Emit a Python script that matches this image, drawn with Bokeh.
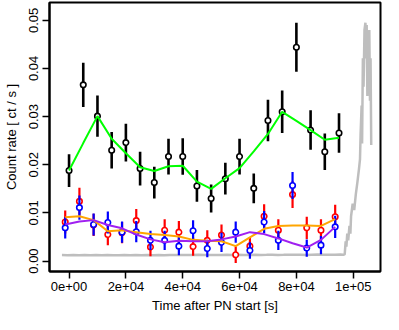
import numpy as np
from bokeh.plotting import figure
from bokeh.models import Range1d, FixedTicker, ColumnDataSource, Title
from bokeh.embed import file_html
from bokeh.resources import INLINE

# ---------------- data ----------------
# total (black) light curve, 5 ks bins
tot_time = [0, 5000, 10000, 15000, 20000, 25000, 30000, 35000, 40000, 45000,
            50000, 55000, 60000, 65000, 70000, 75000, 80000, 85000, 90000, 95000]
tot_rate = [0.0188, 0.0366, 0.0301, 0.0230, 0.0246, 0.0192, 0.0163, 0.0217, 0.0217, 0.0156,
            0.0130, 0.0171, 0.0217, 0.0151, 0.0292, 0.0310, 0.0444, 0.0272, 0.0227, 0.0266]
tot_err = [0.0034, 0.0046, 0.0043, 0.0038, 0.0039, 0.0035, 0.0033, 0.0037, 0.0038, 0.0033,
           0.0029, 0.0033, 0.0037, 0.0031, 0.0043, 0.0044, 0.0051, 0.0041, 0.0038, 0.0041]
tot_smooth = [0.0188, 0.0245, 0.0301, 0.0254, 0.0224, 0.0195, 0.0187, 0.0197, 0.0198, 0.0165,
              0.0150, 0.0172, 0.0193, 0.0228, 0.0264, 0.0310, 0.0291, 0.0272, 0.0252, 0.0256]

# soft (red) and hard (blue) bands
band_time = [-1350, 3650, 8650, 13650, 18650, 23650, 28650, 33650, 38650, 43650,
             48650, 53650, 58650, 63650, 68650, 73650, 78650, 83650, 88650, 93650]
red_rate = [0.0081, 0.0124, 0.0075, 0.0055, 0.0059, 0.0084, 0.0029, 0.0064, 0.0060, 0.0030,
            0.0043, 0.0054, 0.0013, 0.0031, 0.0093, 0.0064, 0.0138, 0.0069, 0.0064, 0.0092]
red_err = [0.0024, 0.0028, 0.0023, 0.0022, 0.0022, 0.0024, 0.0019, 0.0023, 0.0023, 0.0019,
           0.0021, 0.0022, 0.0017, 0.0019, 0.0025, 0.0023, 0.0028, 0.0023, 0.0023, 0.0025]
red_smooth = [0.0091, 0.0093, 0.0085, 0.0062, 0.0064, 0.0060, 0.0056, 0.0054, 0.0051, 0.0044,
              0.0042, 0.0041, 0.0031, 0.0049, 0.0067, 0.0073, 0.0074, 0.0074, 0.0073, 0.0087]
blue_rate = [0.0069, 0.0111, 0.0076, 0.0080, 0.0060, 0.0061, 0.0043, 0.0043, 0.0031, 0.0063,
             0.0026, 0.0039, 0.0060, 0.0022, 0.0081, 0.0043, 0.0157, 0.0027, 0.0033, 0.0071]
blue_err = [0.0022, 0.0025, 0.0023, 0.0023, 0.0022, 0.0022, 0.0020, 0.0020, 0.0019, 0.0022,
            0.0018, 0.0020, 0.0022, 0.0017, 0.0023, 0.0020, 0.0028, 0.0018, 0.0019, 0.0023]
blue_smooth = [0.0076, 0.0082, 0.0085, 0.0075, 0.0068, 0.0055, 0.0045, 0.0039, 0.0042, 0.0041,
               0.0041, 0.0045, 0.0051, 0.0060, 0.0056, 0.0047, 0.0037, 0.0028, 0.0044, 0.0071]

# background (grey) light curve
bkg_flat_time = list(np.arange(-2500, 96500, 2000))
bkg_flat_rate = [0.00124, 0.00122, 0.00126, 0.00121, 0.00125, 0.00123, 0.00127, 0.00122, 0.00124, 0.00120,
                 0.00123, 0.00125, 0.00121, 0.00124, 0.00122, 0.00126, 0.00123, 0.00125, 0.00121, 0.00127,
                 0.00124, 0.00126, 0.00128, 0.00125, 0.00129, 0.00127, 0.00124, 0.00128, 0.00126, 0.00130,
                 0.00127, 0.00129, 0.00125, 0.00128, 0.00131, 0.00127, 0.00129, 0.00132, 0.00128, 0.00130,
                 0.00133, 0.00129, 0.00131, 0.00128, 0.00132, 0.00134, 0.00130, 0.00133, 0.00131, 0.00134]
bkg_flare_time = [96460, 97000, 97340, 97600, 97900, 98240, 98680, 99000, 99240, 99810,
                  100350, 100920, 101500, 102040, 102380, 102600, 102950, 103120, 103400, 103630,
                  103970, 104300, 104540, 104740, 104980, 105220, 105420, 105660, 105900, 106100, 106340]
bkg_flare_rate = [0.0013, 0.0014, 0.0041, 0.0030, 0.0057, 0.0043, 0.0073, 0.0057, 0.0093, 0.0119,
                  0.0106, 0.0139, 0.0165, 0.0192, 0.0211, 0.0264, 0.0323, 0.0244, 0.0421, 0.0362,
                  0.0480, 0.0495, 0.0421, 0.0490, 0.0343, 0.0461, 0.0402, 0.0480, 0.0333, 0.0421, 0.0241]

x_ticks = [0, 20000, 40000, 60000, 80000, 100000]
x_tick_labels = ["0e+00", "2e+04", "4e+04", "6e+04", "8e+04", "1e+05"]
y_ticks = [0.0, 0.01, 0.02, 0.03, 0.04, 0.05]
y_tick_labels = ["0.00", "0.01", "0.02", "0.03", "0.04", "0.05"]
x_title = "Time after PN start [s]"
y_title = "Count rate [ ct / s ]"

FONT = "Liberation Sans"
X_MIN, X_MAX = -6880, 109600

# ---------------- figure ----------------
p = figure(width=383, height=314,
           x_range=Range1d(X_MIN, X_MAX), y_range=Range1d(-0.00217, 0.0537),
           output_backend="svg", toolbar_location=None,
           min_border_left=44, min_border_right=3, min_border_top=2, min_border_bottom=0)
p.grid.visible = False
p.outline_line_color = "black"
p.outline_line_width = 2
p.background_fill_color = "white"
p.border_fill_color = "white"

for ax in (p.xaxis[0], p.yaxis[0]):
    ax.axis_line_color = "black"
    ax.axis_line_width = 2
    ax.major_tick_in = 0
    ax.major_tick_out = 7
    ax.major_tick_line_width = 1.5
    ax.minor_tick_in = 0
    ax.minor_tick_out = 0
    ax.major_label_text_font = FONT
    ax.major_label_text_font_size = "13px"
    ax.major_label_text_color = "black"
    ax.axis_label_text_font = FONT
    ax.axis_label_text_font_size = "13px"
    ax.axis_label_text_font_style = "normal"
    ax.axis_label_text_color = "black"

p.xaxis.ticker = FixedTicker(ticks=x_ticks)
p.xaxis.major_label_overrides = dict(zip(x_ticks, x_tick_labels))
p.xaxis.major_label_standoff = 3

p.yaxis.ticker = FixedTicker(ticks=y_ticks)
p.yaxis.major_label_overrides = dict(zip(y_ticks, y_tick_labels))
p.yaxis.major_label_orientation = "vertical"
p.yaxis.axis_label = y_title
p.yaxis.major_label_standoff = 4
p.yaxis.axis_label_standoff = 8

# x-axis title as a title below the axis
p.add_layout(Title(text=x_title, align="center", text_font=FONT, text_font_size="13px",
                   text_font_style="normal", text_color="black", standoff=4, offset=0),
             "below")

# background curve
bkg_t = bkg_flat_time + bkg_flare_time
bkg_r = bkg_flat_rate + bkg_flare_rate
p.line(bkg_t, bkg_r, line_color="#BEBEBE", line_width=2.5)


def errpoints(x, y, e, color, bw):
    y = np.array(y)
    e = np.array(e)
    src = ColumnDataSource(dict(x=x, y=y, lo=y - e, hi=y + e))
    p.segment(x0="x", y0="lo", x1="x", y1="hi", source=src, line_color=color, line_width=bw)
    p.scatter(x="x", y="y", source=src, marker="circle", size=5.5,
              line_color=color, line_width=1.6, fill_color="white")


errpoints(tot_time, tot_rate, tot_err, "black", 2.6)
errpoints(band_time, red_rate, red_err, "#FF0000", 2.2)
errpoints(band_time, blue_rate, blue_err, "#0000FF", 2.2)

p.line(tot_time, tot_smooth, line_color="#00FF00", line_width=2)
p.line(band_time, red_smooth, line_color="#FFA500", line_width=2)
p.line(band_time, blue_smooth, line_color="#A020F0", line_width=2)

open("out.html", "w").write(file_html(p, INLINE))
